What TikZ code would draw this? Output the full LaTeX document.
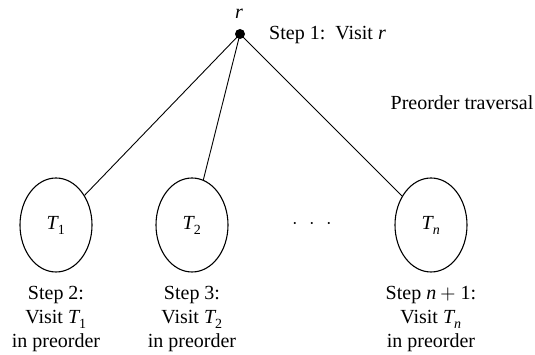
\documentclass[tikz,border=0pt]{standalone}
\usepackage{fontspec}
\setmainfont{Liberation Serif}
\usepackage{unicode-math}
\setmathfont{Latin Modern Math}
\setmathfont[range=it]{Liberation Serif Italic}
\setmathfont[range={up/num}]{Liberation Serif}
\usetikzlibrary{shapes.geometric}
\begin{document}
\begin{tikzpicture}[x=1pt,y=1pt,
  every node/.style={font=\fontsize{20}{24}\selectfont},
  subtree/.style={draw,ellipse,line width=1.1pt,minimum width=72pt,minimum height=94pt,inner sep=0pt},
  steptext/.style={align=center,anchor=north,inner sep=0pt},
  edge/.style={line width=0.9pt}]
\useasboundingbox (0,0) rectangle (535,355);
\fill (240,321) circle (5pt);
\coordinate (r) at (240,321);
\node (rl) at (239,341) {$r$};
\node[anchor=base west,inner sep=0pt] (s1) at (269,315) {Step 1:\, Visit $r$};
\node[subtree] (T1) at (56,130) {$T_1$};
\node[subtree] (T2) at (192,130) {$T_2$};
\node[subtree] (Tn) at (431,130) {$T_n$};
\node (dots) at (312,130) {$\cdot\hspace{7pt}\cdot\hspace{7pt}\cdot$};
\node (pt) at (462,252) {Preorder traversal};
\draw[edge] (r) -- (T1);
\draw[edge] (r) -- (T2);
\draw[edge] (r) -- (Tn);
\node[steptext] (st2) at (56,68.5) {Step 2:\\Visit $T_1$\\in preorder};
\node[steptext] (st3) at (192,68.5) {Step 3:\\Visit $T_2$\\in preorder};
\node[steptext] (stn) at (431,68.5) {Step $n+1$:\\Visit $T_n$\\in preorder};
\end{tikzpicture}
\end{document}
